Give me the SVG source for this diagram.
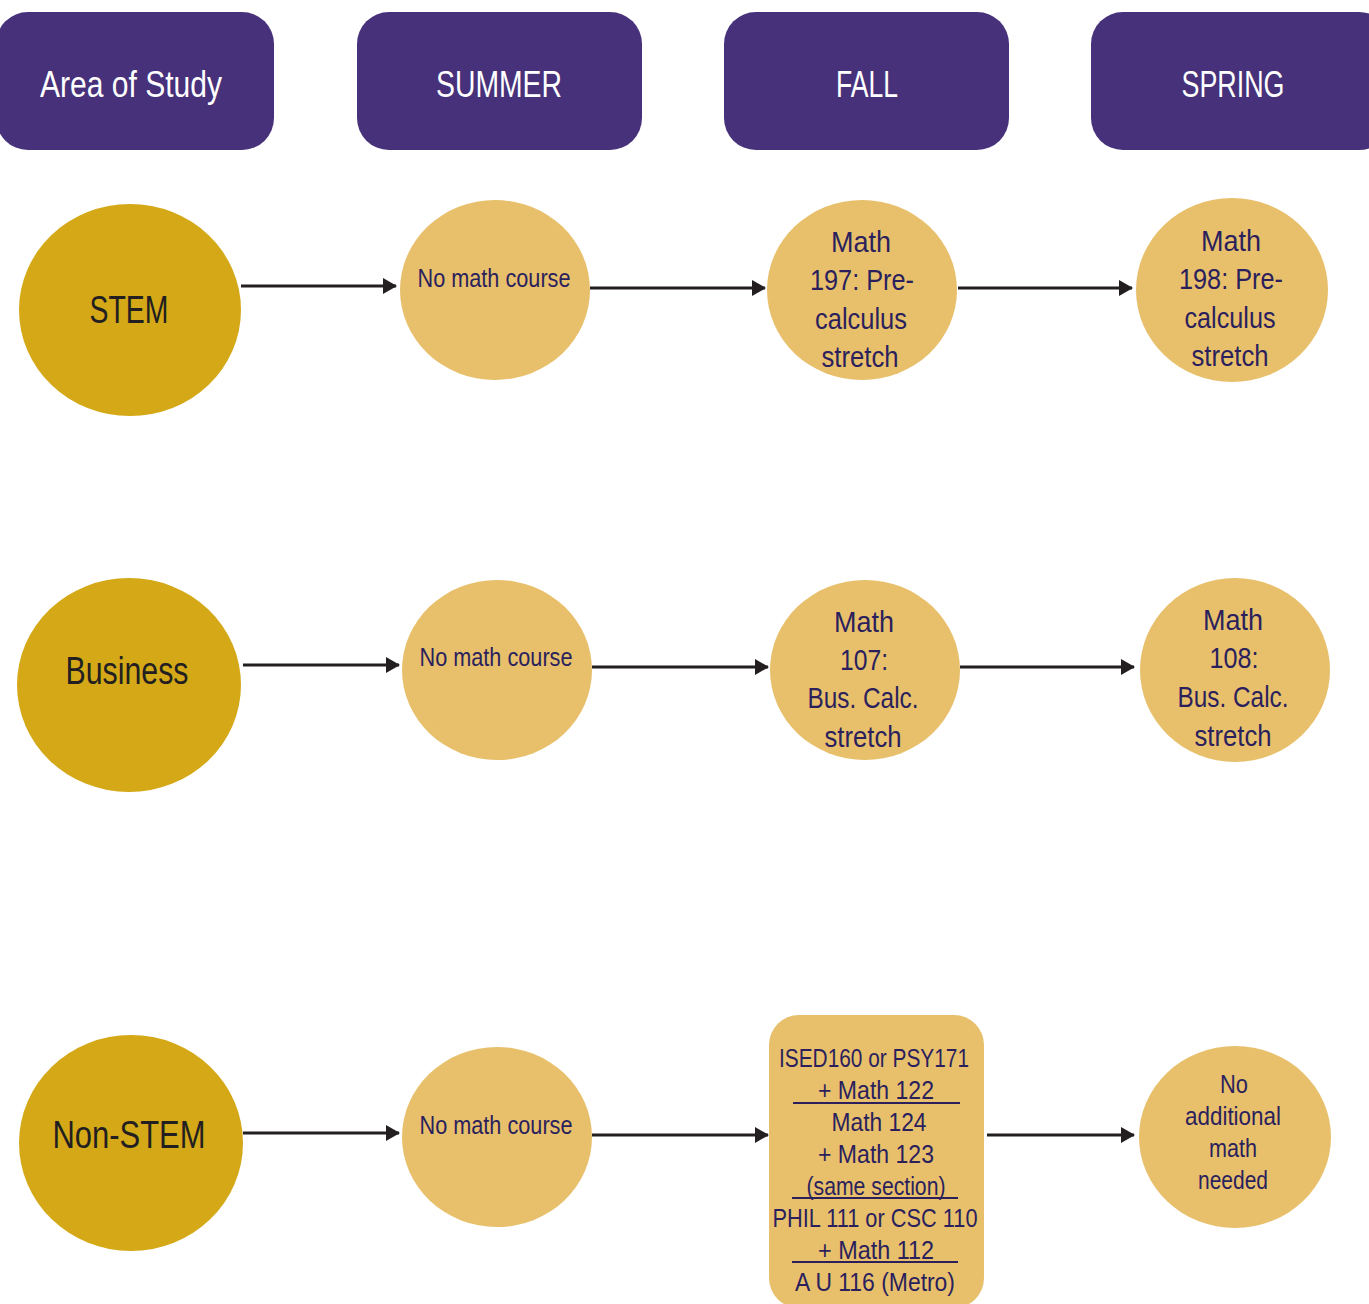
<svg xmlns="http://www.w3.org/2000/svg" width="1369" height="1304" viewBox="0 0 1369 1304">
<style>
.hdr{fill:#46317A}
.ht{fill:#ffffff;font-family:"Liberation Sans",Arial,sans-serif;font-size:37px;text-anchor:middle}
.big{fill:#D4A817}
.bt{fill:#231F20;font-family:"Liberation Sans",Arial,sans-serif;font-size:38px;text-anchor:middle}
.lt{fill:#E8C06C}
.ct{fill:#2B1F5C;font-family:"Liberation Sans",Arial,sans-serif;font-size:30px;text-anchor:middle}
.st{fill:#2B1F5C;font-family:"Liberation Sans",Arial,sans-serif;font-size:26px;text-anchor:middle}
.con{stroke:#231F20;stroke-width:3;fill:none}
.ul{stroke:#2B1F5C;stroke-width:2}
</style>
<defs>
<marker id="ah" markerUnits="userSpaceOnUse" markerWidth="14" markerHeight="16" refX="13" refY="8" orient="auto">
<path d="M0,0 L14,8 L0,16 Z" fill="#231F20"/>
</marker>
</defs>
<rect width="1369" height="1304" fill="#ffffff"/>
<g id="hdr-area"><rect class="hdr" x="-4" y="12" width="278" height="138" rx="32"/><text class="ht" x="131" y="97" textLength="182" lengthAdjust="spacingAndGlyphs">Area of Study</text></g>
<g id="hdr-summer"><rect class="hdr" x="357" y="12" width="285" height="138" rx="32"/><text class="ht" x="499" y="97" textLength="126" lengthAdjust="spacingAndGlyphs">SUMMER</text></g>
<g id="hdr-fall"><rect class="hdr" x="724" y="12" width="285" height="138" rx="32"/><text class="ht" x="867" y="97" textLength="62" lengthAdjust="spacingAndGlyphs">FALL</text></g>
<g id="hdr-spring"><rect class="hdr" x="1091" y="12" width="300" height="138" rx="32"/><text class="ht" x="1233" y="97" textLength="103" lengthAdjust="spacingAndGlyphs">SPRING</text></g>
<g id="connectors">
<line class="con" x1="241" y1="286" x2="396" y2="286" marker-end="url(#ah)"/>
<line class="con" x1="590" y1="288" x2="765" y2="288" marker-end="url(#ah)"/>
<line class="con" x1="958" y1="288" x2="1132" y2="288" marker-end="url(#ah)"/>
<line class="con" x1="243" y1="665" x2="399" y2="665" marker-end="url(#ah)"/>
<line class="con" x1="592" y1="667" x2="768" y2="667" marker-end="url(#ah)"/>
<line class="con" x1="960" y1="667" x2="1134" y2="667" marker-end="url(#ah)"/>
<line class="con" x1="243" y1="1133" x2="399" y2="1133" marker-end="url(#ah)"/>
<line class="con" x1="592" y1="1135" x2="768" y2="1135" marker-end="url(#ah)"/>
<line class="con" x1="987" y1="1135" x2="1134" y2="1135" marker-end="url(#ah)"/>
</g>
<g id="stem"><ellipse class="big" cx="130" cy="310" rx="111" ry="106"/><text class="bt" x="129" y="323" textLength="79" lengthAdjust="spacingAndGlyphs">STEM</text></g>
<g id="stem-summer"><ellipse class="lt" cx="495" cy="290" rx="95" ry="90"/><text class="st" x="494" y="287" textLength="153" lengthAdjust="spacingAndGlyphs">No math course</text></g>
<g id="stem-fall"><ellipse class="lt" cx="862" cy="290" rx="95" ry="90"/>
<text class="ct" x="861" y="252" textLength="60" lengthAdjust="spacingAndGlyphs">Math</text>
<text class="ct" x="862" y="290" textLength="104" lengthAdjust="spacingAndGlyphs">197: Pre-</text>
<text class="ct" x="861" y="329" textLength="92" lengthAdjust="spacingAndGlyphs">calculus</text>
<text class="ct" x="860" y="367" textLength="77" lengthAdjust="spacingAndGlyphs">stretch</text></g>
<g id="stem-spring"><ellipse class="lt" cx="1232" cy="290" rx="96" ry="92"/>
<text class="ct" x="1231" y="251" textLength="60" lengthAdjust="spacingAndGlyphs">Math</text>
<text class="ct" x="1231" y="289" textLength="104" lengthAdjust="spacingAndGlyphs">198: Pre-</text>
<text class="ct" x="1230" y="328" textLength="91" lengthAdjust="spacingAndGlyphs">calculus</text>
<text class="ct" x="1230" y="366" textLength="77" lengthAdjust="spacingAndGlyphs">stretch</text></g>
<g id="business"><ellipse class="big" cx="129" cy="685" rx="112" ry="107"/><text class="bt" x="127" y="684" textLength="123" lengthAdjust="spacingAndGlyphs">Business</text></g>
<g id="business-summer"><ellipse class="lt" cx="497" cy="670" rx="95" ry="90"/><text class="st" x="496" y="666" textLength="153" lengthAdjust="spacingAndGlyphs">No math course</text></g>
<g id="business-fall"><ellipse class="lt" cx="865" cy="670" rx="95" ry="90"/>
<text class="ct" x="864" y="632" textLength="60" lengthAdjust="spacingAndGlyphs">Math</text>
<text class="ct" x="864" y="670" textLength="48" lengthAdjust="spacingAndGlyphs">107:</text>
<text class="ct" x="863" y="708" textLength="111" lengthAdjust="spacingAndGlyphs">Bus. Calc.</text>
<text class="ct" x="863" y="747" textLength="77" lengthAdjust="spacingAndGlyphs">stretch</text></g>
<g id="business-spring"><ellipse class="lt" cx="1235" cy="670" rx="95" ry="92"/>
<text class="ct" x="1233" y="630" textLength="60" lengthAdjust="spacingAndGlyphs">Math</text>
<text class="ct" x="1234" y="668" textLength="49" lengthAdjust="spacingAndGlyphs">108:</text>
<text class="ct" x="1233" y="707" textLength="111" lengthAdjust="spacingAndGlyphs">Bus. Calc.</text>
<text class="ct" x="1233" y="746" textLength="77" lengthAdjust="spacingAndGlyphs">stretch</text></g>
<g id="nonstem"><ellipse class="big" cx="131" cy="1143" rx="112" ry="108"/><text class="bt" x="129" y="1148" textLength="153" lengthAdjust="spacingAndGlyphs">Non-STEM</text></g>
<g id="nonstem-summer"><ellipse class="lt" cx="497" cy="1137" rx="95" ry="90"/><text class="st" x="496" y="1134" textLength="153" lengthAdjust="spacingAndGlyphs">No math course</text></g>
<g id="nonstem-fall"><rect class="lt" x="769" y="1015" width="215" height="293" rx="30"/>
<text class="st" x="874" y="1067" textLength="190" lengthAdjust="spacingAndGlyphs">ISED160 or PSY171</text>
<text class="st" x="876" y="1099" textLength="116" lengthAdjust="spacingAndGlyphs">+ Math 122</text>
<line class="ul" x1="793" y1="1103" x2="960" y2="1103"/>
<text class="st" x="879" y="1131" textLength="95" lengthAdjust="spacingAndGlyphs">Math 124</text>
<text class="st" x="876" y="1163" textLength="116" lengthAdjust="spacingAndGlyphs">+ Math 123</text>
<text class="st" x="876" y="1195" textLength="139" lengthAdjust="spacingAndGlyphs">(same section)</text>
<line class="ul" x1="792" y1="1198" x2="958" y2="1198"/>
<text class="st" x="875" y="1227" textLength="205" lengthAdjust="spacingAndGlyphs">PHIL 111 or CSC 110</text>
<text class="st" x="876" y="1259" textLength="116" lengthAdjust="spacingAndGlyphs">+ Math 112</text>
<line class="ul" x1="792" y1="1262" x2="958" y2="1262"/>
<text class="st" x="875" y="1291" textLength="160" lengthAdjust="spacingAndGlyphs">A U 116 (Metro)</text></g>
<g id="nonstem-spring"><ellipse class="lt" cx="1235" cy="1137" rx="96" ry="91"/>
<text class="st" x="1234" y="1093" textLength="28" lengthAdjust="spacingAndGlyphs">No</text>
<text class="st" x="1233" y="1125" textLength="96" lengthAdjust="spacingAndGlyphs">additional</text>
<text class="st" x="1233" y="1157" textLength="48" lengthAdjust="spacingAndGlyphs">math</text>
<text class="st" x="1233" y="1189" textLength="70" lengthAdjust="spacingAndGlyphs">needed</text></g>
</svg>
